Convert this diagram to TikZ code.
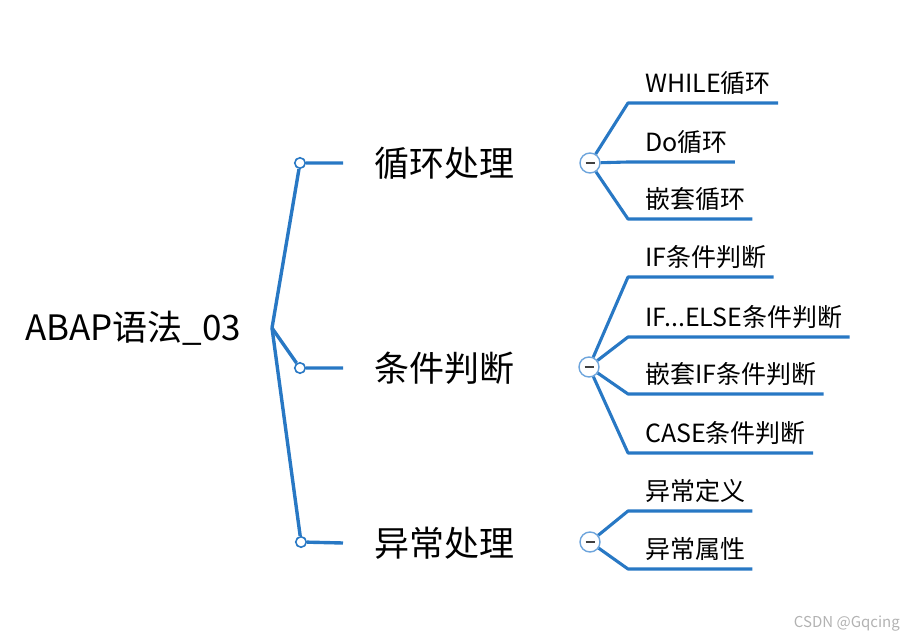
\documentclass[tikz,border=0pt]{standalone}
\usepackage{fontspec}
\setmainfont{Noto Sans CJK SC}
\usepackage{xcolor}
\usetikzlibrary{positioning}
\definecolor{mapblue}{RGB}{40,120,196}
\definecolor{foldblue}{RGB}{110,165,220}

\begin{document}
\begin{tikzpicture}[
    x=1pt, y=-1pt,
    branch/.style={draw=mapblue, line width=3.4pt, line join=round},
    twig/.style={draw=mapblue, line width=3.1pt, line join=round},
    dot/.style={circle, draw=mapblue, fill=white, line width=1.6pt, minimum size=10.5pt, inner sep=0pt},
    fold/.style={circle, draw=foldblue, fill=white, line width=1.4pt, minimum size=20pt, inner sep=0pt,
        path picture={\draw[black!75, line width=2pt] ([xshift=-4.5pt]path picture bounding box.center) -- ([xshift=4.5pt]path picture bounding box.center);}},
    rootlbl/.style={anchor=west, inner sep=0pt, text height=30pt, text depth=5pt, font=\fontsize{35}{40}\selectfont},
    sublbl/.style={anchor=west, inner xsep=31pt, inner ysep=0pt, text height=30pt, text depth=4pt, font=\fontsize{35}{40}\selectfont},
    leaf/.style={anchor=south west, inner xsep=0pt, inner ysep=5pt, text height=22pt, text depth=5pt, font=\fontsize{25}{30}\selectfont,
        execute at begin node={\hspace*{17pt}}, execute at end node={\hspace*{7pt}}},
    wmark/.style={anchor=east, inner sep=0pt, text=black!30, font=\fontsize{15}{18}\selectfont}
]
    \useasboundingbox (0,0) rectangle (904,639);

    % Root topic
    \node (root) at (25, 328) [rootlbl] {ABAP语法\_03};
    \coordinate (hub) at (272, 328);

    % Level 1: main topics
    \node (loopdot) at (300, 163) [dot] {};
    \node (conddot) at (300, 368) [dot] {};
    \node (excdot)  at (301, 542) [dot] {};
    \node (loop) at (343, 163) [sublbl] {循环处理};
    \node (cond) at (343, 368) [sublbl] {条件判断};
    \node (exc)  at (343, 543) [sublbl] {异常处理};

    \draw [branch] (hub) -- (loopdot) -- (loop.west);
    \draw [branch] (hub) -- (conddot) -- (cond.west);
    \draw [branch] (hub) -- (excdot) -- (exc.west);

    % Collapse buttons
    \node (foldloop) at (590, 163) [fold] {};
    \node (foldcond) at (589, 367) [fold] {};
    \node (foldexc)  at (590, 542) [fold] {};

    % Level 2: loops
    \node (while) at (628, 103) [leaf] {WHILE循环};
    \node (dowhile) at (628, 162) [leaf] {Do循环};
    \node (nestloop) at (628, 219) [leaf] {嵌套循环};
    \draw [twig] (foldloop) -- (while.south west) -- (while.south east);
    \draw [twig] (foldloop) -- (dowhile.south west) -- (dowhile.south east);
    \draw [twig] (foldloop) -- (nestloop.south west) -- (nestloop.south east);

    % Level 2: conditions
    \node (ifcase) at (628, 277) [leaf] {IF条件判断};
    \node (ifelse) at (628, 337) [leaf] {IF...ELSE条件判断};
    \node (nestif) at (628, 394) [leaf] {嵌套IF条件判断};
    \node (casecase) at (628, 453) [leaf] {CASE条件判断};
    \draw [twig] (foldcond) -- (ifcase.south west) -- (ifcase.south east);
    \draw [twig] (foldcond) -- (ifelse.south west) -- (ifelse.south east);
    \draw [twig] (foldcond) -- (nestif.south west) -- (nestif.south east);
    \draw [twig] (foldcond) -- (casecase.south west) -- (casecase.south east);

    % Level 2: exceptions
    \node (excdef) at (628, 511) [leaf] {异常定义};
    \node (excattr) at (628, 569) [leaf] {异常属性};
    \draw [twig] (foldexc) -- (excdef.south west) -- (excdef.south east);
    \draw [twig] (foldexc) -- (excattr.south west) -- (excattr.south east);

    \node (wm) at (900, 624) [wmark] {CSDN @Gqcing};
\end{tikzpicture}
\end{document}
